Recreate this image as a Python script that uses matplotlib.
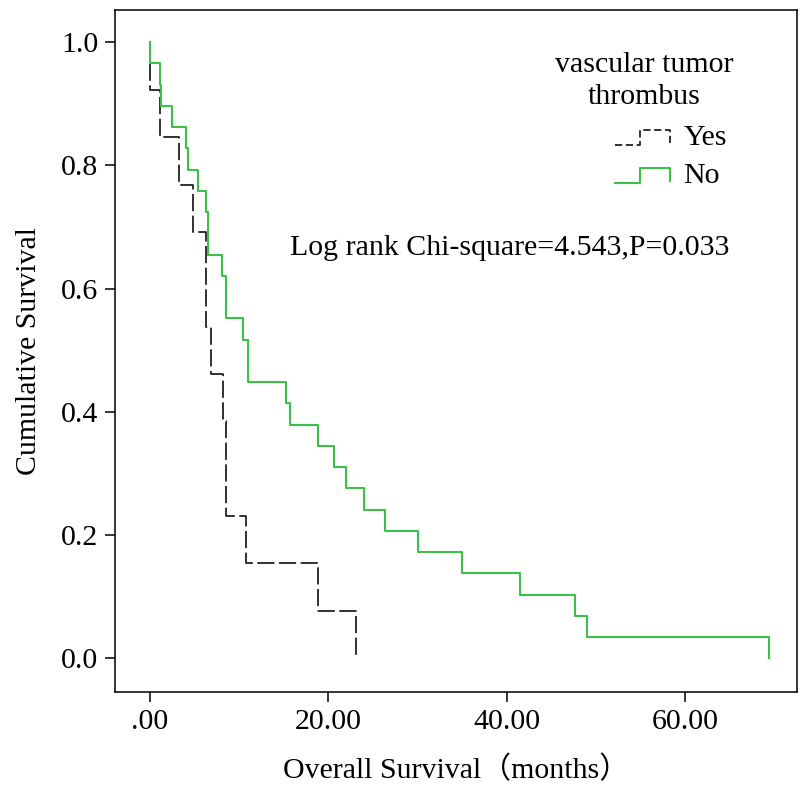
import matplotlib.pyplot as plt
from matplotlib.legend_handler import HandlerBase
from matplotlib.lines import Line2D

# Kaplan-Meier steps (months, cumulative survival)
no_time = [0, 0.06, 1.2, 1.3, 2.5, 4.1, 4.3, 5.4, 6.3, 6.55, 8.1, 8.6, 10.5,
           11.0, 15.3, 15.7, 18.8, 20.6, 22.0, 24.0, 26.4, 30.1, 35.0, 41.5,
           47.7, 49.0, 69.4]
no_surv = [1.0, 0.966, 0.931, 0.897, 0.862, 0.828, 0.793, 0.759, 0.724, 0.655,
           0.621, 0.552, 0.517, 0.448, 0.414, 0.379, 0.345, 0.310, 0.276,
           0.241, 0.207, 0.172, 0.138, 0.103, 0.069, 0.034, 0.0]

yes_time = [0, 0.05, 1.2, 3.3, 4.9, 6.35, 6.9, 8.2, 8.55, 10.8, 18.8, 23.1]
yes_surv = [1.0, 0.923, 0.846, 0.769, 0.692, 0.538, 0.462, 0.385, 0.231,
            0.154, 0.077, 0.0]

x_ticks = [0, 20, 40, 60]
x_ticklabels = ['.00', '20.00', '40.00', '60.00']
y_ticks = [0.0, 0.2, 0.4, 0.6, 0.8, 1.0]

green = '#3dbf4a'
serif = ['Liberation Serif', 'Noto Sans CJK SC']
plt.rcParams['font.family'] = serif
fs = 21.5


class StepHandler(HandlerBase):
    def create_artists(self, legend, orig_handle, xdescent, ydescent,
                       width, height, fontsize, trans):
        x0 = -xdescent
        y0 = -ydescent
        y1 = y0 + 0.7 * height
        xs = [x0, x0 + 0.45 * width, x0 + 0.45 * width, x0 + width, x0 + width]
        ys = [y0, y0, y1, y1, y0 + 0.1 * height]
        ln = Line2D(xs, ys, color=orig_handle.get_color(),
                    linestyle=orig_handle.get_linestyle(),
                    linewidth=orig_handle.get_linewidth())
        if orig_handle.get_linestyle() in ('--', 'dashed'):
            ln.set_dashes((4, 2))
        ln.set_transform(trans)
        return [ln]


fig = plt.figure(figsize=(8, 7.91), dpi=100)
ax = fig.add_axes([0.144, 0.125, 0.852, 0.862])

yes_line, = ax.plot(yes_time, yes_surv, drawstyle='steps-post', color='#222222',
                    linewidth=1.3, linestyle='--', dashes=(9.5, 2.5), label='Yes')
no_line, = ax.plot(no_time, no_surv, drawstyle='steps-post', color=green,
                   linewidth=1.5, label='No')

ax.set_xlim(-3.87, 72.5)
ax.set_ylim(-0.055, 1.052)
ax.set_xticks(x_ticks)
ax.set_xticklabels(x_ticklabels)
ax.set_yticks(y_ticks)
ax.set_yticklabels([f'{v:.1f}' for v in y_ticks])
ax.tick_params(direction='out', length=7, width=1.1, labelsize=fs, pad=5)
for s in ax.spines.values():
    s.set_linewidth(1.1)

ax.set_xlabel('Overall Survival（months）', fontsize=fs, labelpad=15)
ax.set_ylabel('Cumulative Survival', fontsize=fs, labelpad=14)

ax.text(0.776, 0.896, 'vascular tumor\nthrombus', transform=ax.transAxes,
        ha='center', va='center', fontsize=fs, linespacing=1.32)
ax.legend(handles=[yes_line, no_line], loc='upper left',
          bbox_to_anchor=(0.716, 0.851), borderaxespad=0, frameon=False,
          fontsize=fs, handlelength=1.85, handletextpad=0.43, labelspacing=0.38,
          handler_map={Line2D: StepHandler()})

ax.text(0.257, 0.652, 'Log rank Chi-square=4.543,P=0.033', transform=ax.transAxes,
        ha='left', va='center', fontsize=fs)

fig.savefig('out.png', dpi=100)
